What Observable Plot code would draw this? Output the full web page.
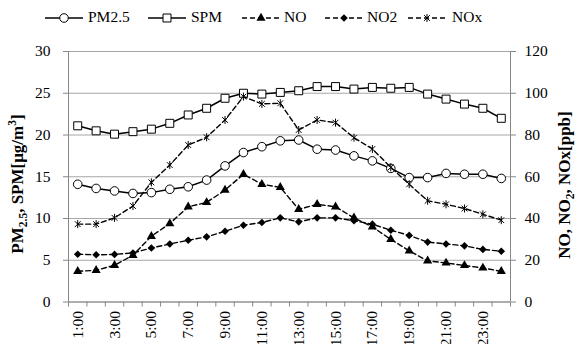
<!DOCTYPE html>
<html><head><meta charset="utf-8">
<script src="https://cdn.jsdelivr.net/npm/d3@7"></script>
<script src="https://cdn.jsdelivr.net/npm/@observablehq/plot@0.6"></script>
<style>
html,body{margin:0;padding:0;overflow:hidden;background:#fff;width:577px;height:344px;}
#legend{position:relative;height:30px;width:577px;font-family:'Liberation Serif',serif;font-size:15.5px;color:#000;}
#legend .sw{position:absolute;top:11px;}
#legend .lb{position:absolute;top:8px;line-height:18px;white-space:nowrap;}
#chart svg{display:block;}
#chart svg text{font-family:'Liberation Serif',serif;}
</style>
</head><body>
<div id="legend"></div>
<div id="chart"></div>
<script>
// ---- data ----
const hours = ["1:00","2:00","3:00","4:00","5:00","6:00","7:00","8:00","9:00","10:00","11:00","12:00",
  "13:00","14:00","15:00","16:00","17:00","18:00","19:00","20:00","21:00","22:00","23:00","24:00"];
const pm25 = [14.1,13.6,13.3,13.0,13.1,13.5,13.8,14.6,16.3,17.9,18.6,19.3,19.4,18.3,18.2,17.5,16.9,16.0,14.9,14.9,15.4,15.3,15.3,14.8];
const spm  = [21.1,20.5,20.1,20.4,20.7,21.4,22.4,23.2,24.4,25.0,24.9,25.1,25.3,25.8,25.8,25.5,25.7,25.6,25.7,24.9,24.3,23.7,23.2,22.0];
const no   = [14.7,15.2,17.6,22.4,31.5,37.6,45.6,47.7,53.6,61.2,56.4,54.9,44.4,46.8,45.6,40.3,36.0,30.0,24.5,19.7,18.7,17.5,16.3,14.7];
const no2  = [22.9,22.6,22.8,23.5,25.9,27.8,29.6,31.2,33.9,36.8,38.1,40.3,38.4,40.3,40.3,38.9,37.3,34.4,31.9,28.7,27.8,26.9,25.2,24.3];
const nox  = [37.3,37.3,40.3,46.0,57.3,65.6,75.2,78.9,87.2,98.4,94.9,95.2,82.4,87.2,85.9,78.7,73.3,64.5,56.4,48.5,46.8,44.8,42.0,39.2];
const leftTicks = [0,5,10,15,20,25,30];
const rightTickLabels = [0,20,40,60,80,100,120];
const xLabelHours = ["1:00","3:00","5:00","7:00","9:00","11:00","13:00","15:00","17:00","19:00","21:00","23:00"];
const seriesNames = ["PM2.5","SPM","NO","NO2","NOx"];

// ratio of right axis (ppb) to left axis (µg/m3)
const ratio = rightTickLabels[rightTickLabels.length-1] / leftTicks[leftTicks.length-1];

const rows = hours.map((h, i) => ({i: i + 1, h, pm25: pm25[i], spm: spm[i], no: no[i], no2: no2[i], nox: nox[i]}));
const xLabelIdx = xLabelHours.map(h => hours.indexOf(h) + 1);
const boundaries = d3.range(0, hours.length + 1).map(k => k + 0.5);

const serif = "Liberation Serif, serif";

const diamond = {draw(ctx, size) { const r = Math.sqrt(size / Math.PI); ctx.moveTo(0, -r); ctx.lineTo(r, 0); ctx.lineTo(0, r); ctx.lineTo(-r, 0); ctx.closePath(); }};
const star = {draw(ctx, size) { const r = Math.sqrt(size / Math.PI); const d = r * 0.72;
  ctx.moveTo(-d, -d); ctx.lineTo(d, d); ctx.moveTo(-d, d); ctx.lineTo(d, -d); ctx.moveTo(0, -r); ctx.lineTo(0, r); }};

const gridColor = "#a6a6a6";
const axisColor = "#878787";
const dash = "5,3";

const chart = Plot.plot({
  width: 577, height: 314,
  marginTop: 21, marginBottom: 42.5, marginLeft: 68, marginRight: 67,
  style: {fontFamily: serif, fontSize: "15.5px", color: "#000", overflow: "visible", background: "transparent"},
  x: {type: "linear", domain: [0.5, hours.length + 0.5]},
  y: {domain: [leftTicks[0], leftTicks[leftTicks.length - 1]]},
  marks: [
    Plot.ruleY(leftTicks, {stroke: gridColor}),
    Plot.axisY({anchor: "left", ticks: leftTicks, tickSize: 5, tickPadding: 13, stroke: axisColor, label: null, fontFamily: serif, fontSize: 15.5}),
    Plot.axisY({anchor: "right", ticks: leftTicks, tickSize: 5, tickPadding: 9, stroke: axisColor, label: null, fontFamily: serif, fontSize: 15.5,
      tickFormat: d => rightTickLabels[leftTicks.indexOf(d)]}),
    Plot.ruleX([0.5, hours.length + 0.5], {stroke: axisColor}),
    Plot.ruleY([0], {stroke: axisColor}),
    Plot.axisX({ticks: boundaries, tickSize: 5, tickFormat: () => "", stroke: axisColor, label: null}),
    Plot.axisX({ticks: xLabelIdx, tickSize: 0, tickPadding: 9, tickRotate: -90, fontSize: 15.5, fontFamily: serif, label: null,
      tickFormat: d => hours[d - 1]}),
    // PM2.5
    Plot.line(rows, {x: "i", y: "pm25", stroke: "#000", strokeWidth: 1.5}),
    Plot.dot(rows, {x: "i", y: "pm25", symbol: "circle", r: 4.3, fill: "#fff", stroke: "#000", strokeWidth: 1}),
    // SPM
    Plot.line(rows, {x: "i", y: "spm", stroke: "#000", strokeWidth: 1.5}),
    Plot.dot(rows, {x: "i", y: "spm", symbol: "square", r: 4.5, fill: "#fff", stroke: "#000", strokeWidth: 1}),
    // NO
    Plot.line(rows, {x: "i", y: d => d.no / ratio, stroke: "#000", strokeWidth: 1.4, strokeDasharray: dash}),
    Plot.dot(rows, {x: "i", y: d => d.no / ratio, symbol: "triangle", r: 3.4, fill: "#000", stroke: "none"}),
    // NO2
    Plot.line(rows, {x: "i", y: d => d.no2 / ratio, stroke: "#000", strokeWidth: 1.4, strokeDasharray: dash}),
    Plot.dot(rows, {x: "i", y: d => d.no2 / ratio, symbol: diamond, r: 3.8, fill: "#000", stroke: "none"}),
    // NOx
    Plot.line(rows, {x: "i", y: d => d.nox / ratio, stroke: "#000", strokeWidth: 1.4, strokeDasharray: dash}),
    Plot.dot(rows, {x: "i", y: d => d.nox / ratio, symbol: star, r: 4, fill: "none", stroke: "#000", strokeWidth: 1})
  ]
});
document.getElementById("chart").append(chart);

// axis titles (with sub/superscripts)
const svg = d3.select(chart);
const tfs = 17, sfs = 11.5;
const lt = svg.append("text")
  .attr("transform", "translate(23,154) rotate(-90)")
  .attr("text-anchor", "middle").attr("font-weight", "bold")
  .attr("font-family", serif).attr("font-size", tfs).attr("fill", "#000");
lt.append("tspan").text("PM");
lt.append("tspan").attr("font-size", sfs).attr("dy", 4).text("2.5");
lt.append("tspan").attr("dy", -4).text(", SPM[μg/m");
lt.append("tspan").attr("font-size", sfs).attr("dy", -7).text("3");
lt.append("tspan").attr("dy", 7).text("]");

const rt = svg.append("text")
  .attr("transform", "translate(570,155) rotate(-90)")
  .attr("text-anchor", "middle").attr("font-weight", "bold")
  .attr("font-family", serif).attr("font-size", tfs).attr("fill", "#000");
rt.append("tspan").text("NO, NO");
rt.append("tspan").attr("font-size", sfs).attr("dy", 4).text("2");
rt.append("tspan").attr("dy", -4).text(", NOx[ppb]");

// legend
const legend = d3.select("#legend");
const legendSpec = [
  {sym: d3.symbolCircle, r: 4.3, fill: "#fff", stroke: "#000", dash: null, sw: 45, lb: 88},
  {sym: d3.symbolSquare, r: 4.5, fill: "#fff", stroke: "#000", dash: null, sw: 148, lb: 191},
  {sym: d3.symbolTriangle, r: 3.4, fill: "#000", stroke: "none", dash: dash, sw: 242, lb: 284},
  {sym: diamond, r: 3.8, fill: "#000", stroke: "none", dash: dash, sw: 325, lb: 367},
  {sym: star, r: 4, fill: "none", stroke: "#000", dash: dash, sw: 408, lb: 452}
];
legendSpec.forEach((s, k) => {
  const w = 38, h = 14;
  const g = legend.append("svg").attr("class", "sw").attr("width", w).attr("height", h)
    .style("left", s.sw + "px");
  g.append("line").attr("x1", 0).attr("x2", w).attr("y1", 7).attr("y2", 7)
    .attr("stroke", "#000").attr("stroke-width", s.dash ? 1.4 : 1.5)
    .attr("stroke-dasharray", s.dash);
  g.append("path").attr("transform", `translate(${w / 2},7)`)
    .attr("d", d3.symbol(s.sym, s.r * s.r * Math.PI)())
    .attr("fill", s.fill).attr("stroke", s.stroke).attr("stroke-width", 1);
  legend.append("div").attr("class", "lb").style("left", s.lb + "px").text(seriesNames[k]);
});
</script>
</body></html>
